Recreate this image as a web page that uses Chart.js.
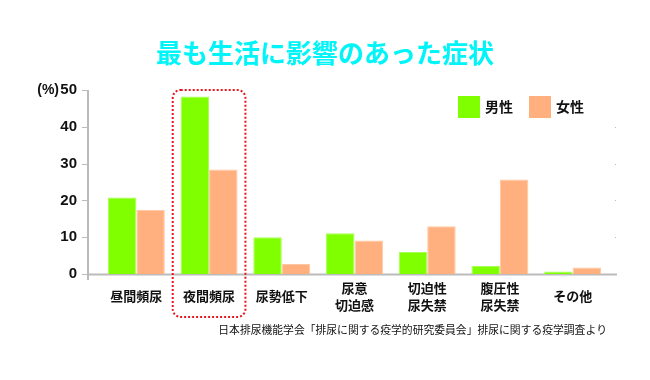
<!DOCTYPE html>
<html>
<head>
<meta charset="utf-8">
<script src="https://cdn.jsdelivr.net/npm/chart.js@4.4.1/dist/chart.umd.min.js"></script>
<style>
    body { margin: 0; background: #fff; }
    canvas { display: block; }
</style>
</head>
<body>
<canvas id="symptomChart" width="650" height="380"></canvas>
<script>
// data
const categories = ['昼間頻尿', '夜間頻尿', '尿勢低下', ['尿意', '切迫感'], ['切迫性', '尿失禁'], ['腹圧性', '尿失禁'], 'その他'];
const maleValues = [20.8, 48.2, 10.0, 11.1, 6.0, 2.2, 0.7];
const femaleValues = [17.4, 28.4, 2.7, 9.1, 13.0, 25.7, 1.8];
const seriesNames = ['男性', '女性'];
const yMin = 0, yMax = 50, yStep = 10;
const highlightIndex = 1;

const titleText = '最も生活に影響のあった症状';
const unitText = '(%)';
const sourceText = '日本排尿機能学会「排尿に関する疫学的研究委員会」排尿に関する疫学調査より';

const fontFamily = '"Liberation Sans", "Noto Sans CJK JP", sans-serif';
const jpFont = '"Noto Sans CJK JP", "Liberation Sans", sans-serif';
const maleColor = '#80FF00';
const femaleColor = '#FFB07E';
const axisColor = '#BBBBBB';

// draws the title, legend, axis lines, the red dotted box and the source line
const decorations = {
    id: 'decorations',
    beforeDatasetsDraw(chart) {
        const ctx = chart.ctx;
        const area = chart.chartArea;
        const y = chart.scales.y;
        const axisX = area.left - 12;
        ctx.save();
        ctx.strokeStyle = axisColor;
        ctx.lineWidth = 2;
        ctx.beginPath();
        ctx.moveTo(axisX, y.getPixelForValue(yMax));
        ctx.lineTo(axisX, area.bottom + 6);
        ctx.moveTo(axisX, area.bottom + 0.5);
        ctx.lineTo(area.right + 8, area.bottom + 0.5);
        ctx.stroke();
        ctx.lineWidth = 1;
        ctx.beginPath();
        for (let v = yMin; v <= yMax; v += yStep) {
            const py = Math.round(y.getPixelForValue(v)) + 0.5;
            ctx.moveTo(axisX - 6, py);
            ctx.lineTo(axisX, py);
        }
        ctx.stroke();
        ctx.fillStyle = axisColor;
        for (let v = yMin + yStep; v < yMax; v += yStep) {
            ctx.fillRect(area.right + 6, Math.round(y.getPixelForValue(v)), 1, 1);
        }
        ctx.restore();
    },
    afterDraw(chart) {
        const ctx = chart.ctx;
        const area = chart.chartArea;
        const x = chart.scales.x;
        const y = chart.scales.y;
        ctx.save();

        // title
        ctx.fillStyle = '#00F4F8';
        ctx.font = 'bold 26px ' + jpFont;
        ctx.textAlign = 'center';
        ctx.textBaseline = 'middle';
        ctx.fillText(titleText, 325, 53);

        // unit label
        ctx.fillStyle = '#111';
        ctx.font = 'bold 14px ' + fontFamily;
        ctx.textAlign = 'right';
        ctx.fillText(unitText, 59, y.getPixelForValue(yMax));

        // legend
        const colors = [maleColor, femaleColor];
        let lx = 458;
        ctx.font = 'bold 14px ' + jpFont;
        ctx.textAlign = 'left';
        seriesNames.forEach((name, i) => {
            ctx.fillStyle = colors[i];
            ctx.fillRect(lx, 96, 22, 22);
            ctx.fillStyle = '#111';
            ctx.fillText(name, lx + 27, 107);
            lx += 71;
        });

        // red dotted box round the highlighted category
        const half = (x.getPixelForValue(1) - x.getPixelForValue(0)) / 2;
        const cx = x.getPixelForValue(highlightIndex);
        const bx = cx - half, by = y.getPixelForValue(yMax);
        const bw = half * 2, bh = area.bottom + 43 - by;
        ctx.strokeStyle = '#E8141E';
        ctx.lineWidth = 2;
        ctx.setLineDash([2, 2]);
        ctx.beginPath();
        ctx.roundRect(bx, by, bw, bh, 8);
        ctx.stroke();
        ctx.setLineDash([]);

        // source
        ctx.fillStyle = '#111';
        ctx.font = '10.8px ' + jpFont;
        ctx.textAlign = 'right';
        ctx.fillText(sourceText, 607, 330);
        ctx.restore();
    }
};

new Chart(document.getElementById('symptomChart'), {
    type: 'bar',
    data: {
        labels: categories,
        datasets: [{
            label: seriesNames[0],
            data: maleValues,
            backgroundColor: maleColor,
            borderColor: '#A6FF55',
            borderWidth: 1
        }, {
            label: seriesNames[1],
            data: femaleValues,
            backgroundColor: femaleColor,
            borderColor: '#FFC8A2',
            borderWidth: 1
        }]
    },
    options: {
        responsive: false,
        animation: false,
        layout: { padding: { top: 90, right: 41, left: 0, bottom: 0 } },
        datasets: {
            bar: { categoryPercentage: 0.783, barPercentage: 1.0 }
        },
        scales: {
            x: {
                grid: { display: false },
                border: { display: false },
                ticks: {
                    color: '#111',
                    font: { family: jpFont, size: 13, weight: 'bold', lineHeight: 1.3 },
                    padding: 6,
                    crossAlign: 'center',
                    maxRotation: 0,
                    autoSkip: false
                },
                afterFit(scale) { scale.height = 106; }
            },
            y: {
                min: yMin,
                max: yMax,
                grid: { display: false, drawTicks: false },
                border: { display: false },
                ticks: {
                    stepSize: yStep,
                    color: '#111',
                    font: { family: fontFamily, size: 15, weight: 'bold' },
                    padding: 23
                },
                afterFit(scale) { scale.width = 100; }
            }
        },
        plugins: {
            legend: { display: false },
            title: { display: false },
            tooltip: { enabled: false }
        }
    },
    plugins: [decorations]
});
</script>
</body>
</html>
